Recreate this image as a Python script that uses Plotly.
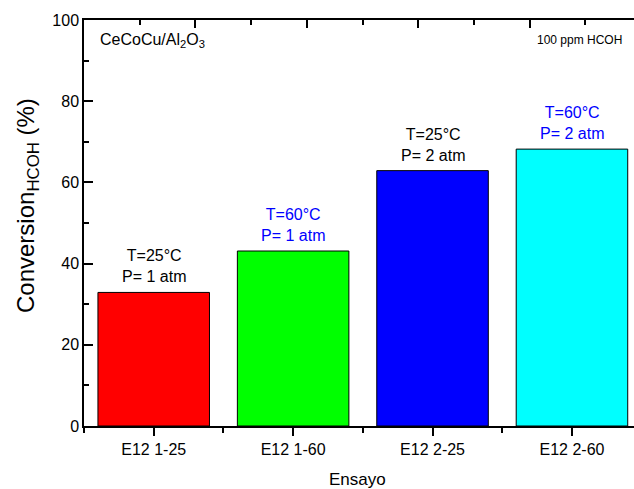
import plotly.graph_objects as go

# Test runs and their HCOH conversion (%)
ensayos = ["E12 1-25", "E12 1-60", "E12 2-25", "E12 2-60"]
conversion = [32.9, 43.1, 62.9, 68.2]
bar_colors = ["#ff0000", "#00ff00", "#0000ff", "#00ffff"]
temperaturas = ["T=25°C", "T=60°C", "T=25°C", "T=60°C"]
presiones = ["P= 1 atm", "P= 1 atm", "P= 2 atm", "P= 2 atm"]
label_colors = ["#000000", "#0000ff", "#000000", "#0000ff"]
y_ticks = [0, 20, 40, 60, 80, 100]

FONT = "Liberation Sans, Arial, sans-serif"
pos = list(range(len(ensayos)))

# plot-area geometry in pixels
L, T, W, H = 84, 20, 550, 406


def px_x(px):
    return (px - L) / W


def px_y(py):
    return (T + H - py) / H


fig = go.Figure()
fig.add_trace(go.Bar(
    x=pos, y=conversion, width=0.8,
    marker=dict(color=bar_colors, line=dict(color="#000000", width=1)),
    showlegend=False, hoverinfo="skip",
))
# helper trace so the top axis gets drawn
fig.add_trace(go.Scatter(x=[0], y=[0], xaxis="x2", mode="markers",
                         marker=dict(opacity=0), showlegend=False, hoverinfo="skip"))

for xi, v, t, p, c in zip(pos, conversion, temperaturas, presiones, label_colors):
    fig.add_annotation(x=xi, y=v, xref="x", yref="y", text=f"{t}<br>{p}",
                       showarrow=False, yanchor="bottom", yshift=5,
                       font=dict(family=FONT, size=16, color=c))

fig.add_annotation(x=px_x(98), y=px_y(40), xref="paper", yref="paper",
                   text="CeCoCu/Al<sub>2</sub>O<sub>3</sub>", showarrow=False,
                   xanchor="left", yanchor="middle",
                   font=dict(family=FONT, size=16, color="#000000"))
fig.add_annotation(x=px_x(535), y=px_y(40), xref="paper", yref="paper",
                   text="100 ppm HCOH", showarrow=False,
                   xanchor="left", yanchor="middle",
                   font=dict(family=FONT, size=12, color="#000000"))

# axis titles
fig.add_annotation(x=px_x(27), y=px_y(206), xref="paper", yref="paper",
                   text="Conversion<sub>HCOH</sub> (%)", showarrow=False,
                   textangle=-90, xanchor="center", yanchor="middle",
                   font=dict(family=FONT, size=24, color="#000000"))
fig.add_annotation(x=px_x(357), y=px_y(479), xref="paper", yref="paper",
                   text="Ensayo", showarrow=False,
                   xanchor="center", yanchor="middle",
                   font=dict(family=FONT, size=17, color="#000000"))

fig.update_layout(
    width=634, height=489,
    margin=dict(l=L, r=634 - L - W, t=T, b=489 - T - H),
    paper_bgcolor="white", plot_bgcolor="white",
    font=dict(family=FONT, size=16, color="#000000"),
    xaxis=dict(
        range=[-0.5, 3.445], tickvals=pos, ticktext=ensayos,
        showline=True, linecolor="#000000", linewidth=1.5,
        ticks="outside", ticklen=8, tickwidth=1.5, tickcolor="#000000",
        minor=dict(tickvals=[-0.5, 0.5, 1.5, 2.5, 3.5], ticks="outside",
                   ticklen=5, tickwidth=1.5, tickcolor="#000000"),
        showgrid=False, zeroline=False,
        tickfont=dict(size=16),
    ),
    xaxis2=dict(
        overlaying="x", side="top", anchor="y", range=[-1, 3.937],
        dtick=1, tick0=0, showticklabels=False,
        showline=True, linecolor="#000000", linewidth=1.5,
        ticks="inside", ticklen=8, tickwidth=1.5, tickcolor="#000000",
        minor=dict(dtick=0.5, ticks="inside", ticklen=5, tickwidth=1.5,
                   tickcolor="#000000"),
        showgrid=False, zeroline=False,
    ),
    yaxis=dict(
        range=[0, 100], tickvals=y_ticks,
        showline=True, linecolor="#000000", linewidth=1.5,
        ticks="inside", ticklen=9, tickwidth=1.5, tickcolor="#000000",
        minor=dict(dtick=10, ticks="inside", ticklen=5, tickwidth=1.5,
                   tickcolor="#000000"),
        showgrid=False, zeroline=False,
        tickfont=dict(size=16),
    ),
)

fig.write_html("out.html")
